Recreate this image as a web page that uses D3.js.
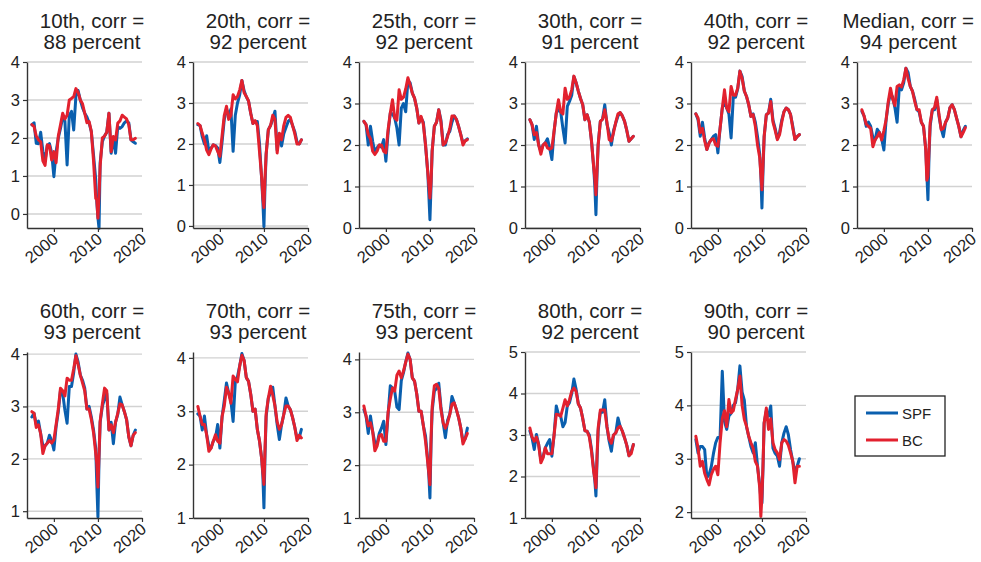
<!DOCTYPE html>
<html>
<head>
<meta charset="utf-8">
<script src="https://cdn.jsdelivr.net/npm/d3@7"></script>
<style>
  body { margin: 0; background: #fff; }
  svg { display: block; }
  text { font-family: "Liberation Sans", Arial, Helvetica, sans-serif; fill: #222; }
</style>
</head>
<body>
<svg id="chart" width="981" height="562"></svg>
<script>
// Observation dates (fractional years)
const dates = [1995, 1995.5, 1996, 1996.5, 1997, 1997.5, 1998, 1998.5, 1999, 1999.5,
  2000, 2000.5, 2001, 2001.5, 2002, 2002.5, 2003, 2003.5, 2004, 2004.5,
  2005, 2005.5, 2006, 2006.5, 2007, 2007.5, 2008, 2008.5, 2009, 2009.5,
  2009.75, 2010, 2010.25, 2010.5, 2011, 2011.5, 2012, 2012.5, 2013, 2013.5,
  2014, 2014.5, 2015, 2015.5, 2016, 2016.5, 2017, 2017.5, 2018, 2018.5];

// Forecast percentiles: SPF vs BC
const spf10 = [2.35, 2.40, 1.86, 1.85, 2.15, 1.65, 1.40, 1.80, 1.85, 1.60,
  0.98, 1.64, 2.00, 2.25, 2.55, 2.45, 1.29, 2.60, 2.70, 2.21,
  3.10, 3.25, 3.00, 2.80, 2.65, 2.55, 2.40, 2.17, 1.55, 0.90,
  0.30, -0.10, -0.38, 1.35, 1.90, 2.05, 2.15, 2.65, 1.60, 2.00,
  1.60, 2.30, 2.25, 2.30, 2.40, 2.45, 2.40, 1.95, 1.90, 1.86];
const bc10 = [2.35, 2.30, 2.05, 1.95, 1.90, 1.40, 1.28, 1.82, 1.80, 1.42,
  1.64, 1.35, 2.05, 2.35, 2.65, 2.50, 2.60, 3.00, 3.04, 3.09,
  3.30, 3.20, 3.00, 2.90, 2.65, 2.40, 2.43, 2.17, 1.40, 0.41,
  0.37, -0.11, 0.50, 1.25, 2.00, 2.05, 2.15, 2.65, 1.64, 2.04,
  1.95, 2.39, 2.45, 2.60, 2.55, 2.50, 2.35, 1.95, 1.95, 1.99];

const spf20 = [2.47, 2.45, 2.18, 2.00, 2.20, 1.82, 1.90, 1.98, 1.96, 1.90,
  1.55, 2.05, 2.60, 2.85, 2.70, 2.85, 1.82, 2.70, 3.00, 3.20,
  3.55, 3.30, 3.15, 3.05, 2.75, 2.50, 2.55, 2.55, 2.00, 1.10,
  0.60, -0.02, 1.00, 1.75, 2.35, 2.45, 2.60, 2.80, 1.85, 2.20,
  1.95, 2.25, 2.40, 2.55, 2.60, 2.45, 2.30, 2.05, 2.00, 2.10];
const bc20 = [2.50, 2.45, 2.26, 2.10, 1.85, 1.74, 1.88, 1.98, 1.95, 1.82,
  1.70, 2.20, 2.70, 2.92, 2.60, 2.70, 3.20, 3.10, 3.16, 3.32,
  3.55, 3.25, 3.16, 3.05, 2.75, 2.50, 2.57, 2.45, 1.80, 1.16,
  0.70, 0.45, 1.20, 1.75, 2.35, 2.45, 2.70, 2.60, 1.78, 2.26,
  2.10, 2.45, 2.65, 2.70, 2.65, 2.45, 2.25, 2.00, 2.00, 2.10];

const spf25 = [2.57, 2.49, 2.00, 2.45, 2.09, 1.81, 1.93, 2.00, 1.95, 2.13,
  1.61, 2.30, 2.77, 2.75, 2.65, 2.41, 2.00, 2.89, 3.00, 2.80,
  3.55, 3.50, 3.25, 3.13, 2.89, 2.53, 2.65, 2.55, 2.00, 1.35,
  0.80, 0.20, 1.00, 1.85, 2.45, 2.55, 2.85, 2.60, 2.00, 2.00,
  2.25, 2.33, 2.55, 2.70, 2.62, 2.45, 2.25, 2.05, 2.10, 2.15];
const bc25 = [2.57, 2.49, 2.25, 2.15, 1.85, 1.77, 1.85, 2.00, 2.00, 1.85,
  1.81, 2.37, 2.77, 3.09, 2.65, 2.60, 3.33, 3.10, 3.15, 3.35,
  3.62, 3.45, 3.25, 3.13, 2.89, 2.53, 2.69, 2.50, 2.00, 1.35,
  1.05, 0.72, 1.10, 1.85, 2.45, 2.55, 2.85, 2.55, 2.00, 2.05,
  2.20, 2.40, 2.70, 2.70, 2.62, 2.45, 2.25, 2.00, 2.10, 2.13];

const spf30 = [2.61, 2.49, 2.13, 2.45, 2.00, 1.85, 2.00, 2.05, 2.15, 1.93,
  1.65, 2.33, 2.77, 2.85, 2.80, 2.40, 2.05, 2.93, 3.05, 3.20,
  3.65, 3.50, 3.30, 3.12, 2.97, 2.61, 2.73, 2.55, 2.09, 1.45,
  1.00, 0.32, 1.30, 2.00, 2.57, 2.62, 2.97, 2.50, 2.30, 2.00,
  2.35, 2.53, 2.70, 2.78, 2.70, 2.57, 2.35, 2.09, 2.15, 2.21];
const bc30 = [2.61, 2.49, 2.25, 2.30, 2.00, 1.78, 2.00, 2.05, 1.93, 1.90,
  1.93, 2.33, 2.77, 3.09, 2.80, 2.75, 3.37, 3.10, 3.15, 3.33,
  3.66, 3.50, 3.30, 3.12, 2.97, 2.61, 2.73, 2.55, 2.09, 1.45,
  1.20, 0.80, 1.40, 2.00, 2.57, 2.62, 2.85, 2.55, 2.13, 2.10,
  2.30, 2.55, 2.75, 2.78, 2.70, 2.57, 2.35, 2.09, 2.15, 2.21];

const spf40 = [2.75, 2.61, 2.21, 2.55, 2.17, 1.89, 2.05, 2.13, 2.21, 2.25,
  1.81, 2.40, 2.89, 3.05, 2.89, 2.75, 2.17, 3.15, 3.15, 3.35,
  3.78, 3.65, 3.30, 3.17, 2.97, 2.69, 2.75, 2.55, 2.20, 1.77,
  1.30, 0.48, 1.40, 2.20, 2.73, 2.77, 3.10, 2.60, 2.40, 2.15,
  2.30, 2.60, 2.80, 2.89, 2.85, 2.73, 2.45, 2.13, 2.20, 2.25];
const bc40 = [2.75, 2.65, 2.30, 2.40, 2.10, 1.89, 2.05, 2.13, 2.15, 2.00,
  1.97, 2.40, 2.89, 3.33, 2.89, 2.80, 3.41, 3.20, 3.20, 3.37,
  3.78, 3.60, 3.30, 3.17, 2.97, 2.69, 2.73, 2.45, 2.00, 1.69,
  1.30, 0.92, 1.55, 2.20, 2.73, 2.77, 3.05, 2.55, 2.35, 2.13,
  2.25, 2.55, 2.80, 2.89, 2.85, 2.73, 2.41, 2.13, 2.20, 2.25];

const spf50 = [2.81, 2.70, 2.45, 2.55, 2.45, 2.18, 2.12, 2.38, 2.30, 2.15,
  1.88, 2.60, 3.00, 3.25, 3.15, 2.90, 2.55, 3.40, 3.33, 3.50,
  3.85, 3.75, 3.41, 3.30, 3.10, 2.85, 2.80, 2.55, 2.45, 1.90,
  1.30, 0.68, 1.75, 2.45, 2.85, 2.85, 3.10, 2.70, 2.40, 2.20,
  2.55, 2.65, 2.90, 2.97, 2.85, 2.65, 2.45, 2.20, 2.35, 2.45];
const bc50 = [2.85, 2.70, 2.50, 2.45, 2.40, 1.96, 2.12, 2.20, 2.30, 2.12,
  2.35, 2.61, 3.05, 3.37, 3.10, 2.95, 3.41, 3.45, 3.40, 3.57,
  3.85, 3.60, 3.41, 3.29, 3.05, 2.85, 2.85, 2.55, 2.45, 1.88,
  1.15, 1.25, 1.90, 2.53, 2.85, 2.90, 3.15, 2.75, 2.37, 2.40,
  2.55, 2.65, 2.90, 2.97, 2.85, 2.65, 2.45, 2.20, 2.30, 2.42];

const spf60 = [2.80, 2.87, 2.65, 2.72, 2.48, 2.25, 2.25, 2.30, 2.45, 2.35,
  2.17, 2.61, 2.90, 3.31, 3.25, 2.93, 2.68, 3.38, 3.38, 3.65,
  4.00, 3.85, 3.60, 3.50, 3.35, 2.95, 3.00, 2.80, 2.55, 2.20,
  1.50, 0.89, 2.00, 2.70, 3.00, 3.15, 3.25, 2.55, 2.70, 2.29,
  2.70, 2.85, 3.18, 3.03, 2.90, 2.75, 2.42, 2.25, 2.45, 2.55];
const bc60 = [2.90, 2.87, 2.60, 2.65, 2.48, 2.10, 2.25, 2.30, 2.35, 2.30,
  2.36, 2.65, 2.95, 3.35, 3.30, 3.20, 3.54, 3.50, 3.50, 3.72,
  3.97, 3.80, 3.60, 3.45, 3.30, 2.95, 2.95, 2.75, 2.50, 2.10,
  1.90, 1.46, 2.10, 2.72, 3.05, 3.35, 3.30, 2.55, 2.65, 2.50,
  2.70, 2.87, 3.05, 3.03, 2.90, 2.75, 2.42, 2.25, 2.45, 2.50];

const spf70 = [2.95, 2.91, 2.65, 2.91, 2.56, 2.35, 2.31, 2.44, 2.50, 2.75,
  2.31, 2.90, 3.20, 3.53, 3.34, 3.20, 2.81, 3.55, 3.65, 3.85,
  4.08, 3.95, 3.63, 3.56, 3.32, 3.00, 3.04, 2.66, 2.44, 2.10,
  1.80, 1.19, 2.20, 2.90, 3.25, 3.35, 3.45, 3.10, 2.75, 2.47,
  2.75, 2.94, 3.25, 3.10, 3.03, 2.88, 2.70, 2.50, 2.50, 2.66];
const bc70 = [3.09, 2.91, 2.75, 2.75, 2.56, 2.25, 2.31, 2.44, 2.56, 2.44,
  2.40, 2.90, 3.10, 3.45, 3.34, 3.15, 3.66, 3.60, 3.55, 3.85,
  4.05, 3.95, 3.63, 3.56, 3.32, 3.00, 3.04, 2.66, 2.44, 2.10,
  1.85, 1.63, 2.30, 2.95, 3.25, 3.47, 3.30, 3.10, 2.80, 2.66,
  2.75, 2.94, 3.10, 3.10, 3.03, 2.88, 2.70, 2.45, 2.55, 2.50];

const spf75 = [3.05, 2.93, 2.60, 2.93, 2.64, 2.42, 2.40, 2.60, 2.70, 2.83,
  2.39, 2.95, 3.50, 3.46, 3.40, 3.10, 3.05, 3.60, 3.75, 3.95,
  4.12, 4.00, 3.65, 3.59, 3.35, 3.02, 3.02, 2.75, 2.55, 2.10,
  1.80, 1.38, 2.40, 3.02, 3.40, 3.45, 3.55, 3.10, 2.80, 2.52,
  2.85, 2.96, 3.30, 3.18, 3.05, 2.90, 2.70, 2.45, 2.50, 2.70];
const bc75 = [3.12, 2.93, 2.74, 2.80, 2.64, 2.27, 2.36, 2.55, 2.58, 2.45,
  2.45, 3.00, 3.25, 3.46, 3.40, 3.70, 3.78, 3.65, 3.78, 3.95,
  4.10, 4.00, 3.65, 3.59, 3.35, 3.02, 3.02, 2.75, 2.45, 2.05,
  1.85, 1.63, 2.50, 3.10, 3.50, 3.53, 3.45, 3.05, 2.80, 2.70,
  2.80, 2.96, 3.15, 3.18, 3.05, 2.90, 2.70, 2.40, 2.50, 2.60];

const spf80 = [3.10, 2.93, 2.65, 3.01, 2.77, 2.40, 2.47, 2.69, 2.80, 2.89,
  2.49, 3.00, 3.70, 3.49, 3.45, 3.20, 3.30, 3.70, 3.78, 4.00,
  4.35, 4.10, 3.75, 3.65, 3.40, 3.10, 3.09, 3.00, 2.65, 2.15,
  1.90, 1.53, 2.40, 3.10, 3.55, 3.55, 3.85, 3.20, 2.85, 2.61,
  3.00, 3.05, 3.41, 3.21, 3.09, 2.93, 2.75, 2.50, 2.60, 2.77];
const bc80 = [3.17, 2.95, 2.85, 2.95, 2.77, 2.33, 2.45, 2.69, 2.55, 2.55,
  2.55, 3.00, 3.50, 3.49, 3.45, 3.65, 3.85, 3.70, 3.85, 4.05,
  4.13, 4.05, 3.75, 3.65, 3.40, 3.10, 3.09, 2.95, 2.60, 2.10,
  1.95, 1.73, 2.50, 3.17, 3.60, 3.60, 3.60, 3.20, 2.90, 2.80,
  3.00, 3.05, 3.17, 3.21, 3.09, 2.93, 2.75, 2.50, 2.55, 2.77];

const spf90 = [3.36, 3.11, 3.23, 3.23, 3.17, 2.65, 2.70, 2.85, 3.10, 3.30,
  3.40, 3.40, 4.64, 3.70, 3.55, 3.80, 3.85, 4.00, 4.05, 4.30,
  4.74, 4.25, 4.10, 3.60, 3.42, 3.23, 3.11, 3.30, 2.86, 2.50,
  2.25, 2.17, 2.86, 3.67, 3.90, 3.80, 3.99, 3.20, 3.10, 3.05,
  2.86, 3.30, 3.48, 3.60, 3.45, 3.17, 2.95, 2.75, 2.86, 3.00];
const bc90 = [3.42, 3.20, 2.86, 2.95, 2.73, 2.61, 2.51, 2.70, 2.80, 2.86,
  2.70, 3.30, 3.75, 3.90, 3.60, 4.11, 3.86, 3.90, 4.11, 4.30,
  4.55, 4.00, 3.74, 3.61, 3.42, 3.30, 3.20, 2.95, 2.86, 2.45,
  1.92, 2.30, 2.90, 3.67, 3.95, 3.55, 3.75, 3.30, 3.17, 3.11,
  2.98, 3.30, 3.36, 3.33, 3.25, 3.11, 2.95, 2.55, 2.86, 2.86];

// Panel labels, correlations and axis ranges
const panelNames = ["10th", "20th", "25th", "30th", "40th", "Median",
  "60th", "70th", "75th", "80th", "90th"];
const corrPercent = [88, 92, 92, 91, 92, 94, 93, 93, 93, 92, 90];
const spfSeries = [spf10, spf20, spf25, spf30, spf40, spf50, spf60, spf70, spf75, spf80, spf90];
const bcSeries = [bc10, bc20, bc25, bc30, bc40, bc50, bc60, bc70, bc75, bc80, bc90];
const yMin = [-0.37, -0.05, 0, 0, 0, 0, 0.87, 1.0, 1.0, 1.0, 1.89];
const yMax = [4, 4, 4, 4, 4, 4, 4.04, 4.11, 4.14, 5, 5];
const yTickValues = [[0, 1, 2, 3, 4], [0, 1, 2, 3, 4], [0, 1, 2, 3, 4], [0, 1, 2, 3, 4],
  [0, 1, 2, 3, 4], [0, 1, 2, 3, 4], [1, 2, 3, 4], [1, 2, 3, 4], [1, 2, 3, 4],
  [1, 2, 3, 4, 5], [2, 3, 4, 5]];
const xTickValues = [2000, 2010, 2020];
const seriesNames = ["SPF", "BC"];

// Layout
const svg = d3.select("#chart");
const colors = { SPF: "#0a5fae", BC: "#e2212e" };
const plotW = 115, plotH = 166;
const colX0 = 27, colStep = 166;
const rowTop = [62, 352];
const xDomain = [1993.9, 2020];

panelNames.forEach((name, i) => {
  const row = i < 6 ? 0 : 1;
  const col = i < 6 ? i : i - 6;
  const left = colX0 + col * colStep;
  const top = rowTop[row];

  const x = d3.scaleLinear().domain(xDomain).range([0, plotW]);
  const y = d3.scaleLinear().domain([yMin[i], yMax[i]]).range([plotH, 0]);

  const g = svg.append("g").attr("transform", `translate(${left},${top})`);

  // horizontal gridlines
  g.append("g").selectAll("line").data(yTickValues[i]).join("line")
    .attr("x1", 0).attr("x2", plotW)
    .attr("y1", d => y(d)).attr("y2", d => y(d))
    .attr("stroke", "#d2d2d2").attr("stroke-width", 1.4);

  const pts = s => dates.map((t, k) => ({ t, v: s[k] }));
  const line = d3.line().x(d => x(d.t)).y(d => y(d.v));

  [["SPF", spfSeries[i]], ["BC", bcSeries[i]]].forEach(([key, s]) => {
    g.append("path").datum(pts(s))
      .attr("d", line)
      .attr("fill", "none")
      .attr("stroke", colors[key])
      .attr("stroke-width", 3)
      .attr("stroke-linejoin", "round")
      .attr("stroke-linecap", "round");
  });

  // y axis
  const ya = g.append("g")
    .call(d3.axisLeft(y).tickValues(yTickValues[i]).tickSize(4).tickSizeOuter(0).tickPadding(3).tickFormat(d3.format("d")));
  ya.select(".domain").attr("stroke", "#333").attr("stroke-width", 1.4);
  ya.selectAll(".tick line").attr("stroke", "#333").attr("stroke-width", 1.2);
  ya.selectAll("text").attr("font-size", 16.5).attr("fill", "#222");

  // x axis with slanted year labels
  const xa = g.append("g").attr("transform", `translate(0,${plotH})`)
    .call(d3.axisBottom(x).tickValues(xTickValues).tickSize(4).tickSizeOuter(0).tickFormat(d3.format("d")));
  xa.select(".domain").attr("stroke", "#333").attr("stroke-width", 1.4);
  xa.selectAll(".tick line").attr("stroke", "#333").attr("stroke-width", 1.2);
  xa.selectAll("text")
    .attr("font-size", 16.5).attr("fill", "#222")
    .attr("x", 0).attr("y", 0).attr("dy", 0)
    .attr("text-anchor", "end")
    .attr("transform", "translate(5,13) rotate(-39)");

  // two-line title
  const title = svg.append("text")
    .attr("font-size", 20.5)
    .attr("text-anchor", "middle");
  const l1 = title.append("tspan").text(`${name}, corr =`);
  const l2 = title.append("tspan").text(`${corrPercent[i]} percent`);
  const w = Math.max(l1.node().getComputedTextLength(), l2.node().getComputedTextLength());
  const cx = Math.min(left + 65, 974 - w / 2);
  const base = row === 0 ? 27.5 : 317.5;
  l1.attr("x", cx).attr("y", base);
  l2.attr("x", cx).attr("y", base + 21);
});

// Legend
const lg = svg.append("g").attr("transform", "translate(855,396)");
lg.append("rect").attr("width", 90).attr("height", 60)
  .attr("fill", "#fff").attr("stroke", "#222").attr("stroke-width", 1.3);
seriesNames.forEach((key, k) => {
  const yy = 17 + k * 27;
  lg.append("line").attr("x1", 11).attr("x2", 43).attr("y1", yy).attr("y2", yy)
    .attr("stroke", colors[key]).attr("stroke-width", 3);
  lg.append("text").attr("x", 47).attr("y", yy + 5.5)
    .attr("font-size", 15).text(key);
});
</script>
</body>
</html>
